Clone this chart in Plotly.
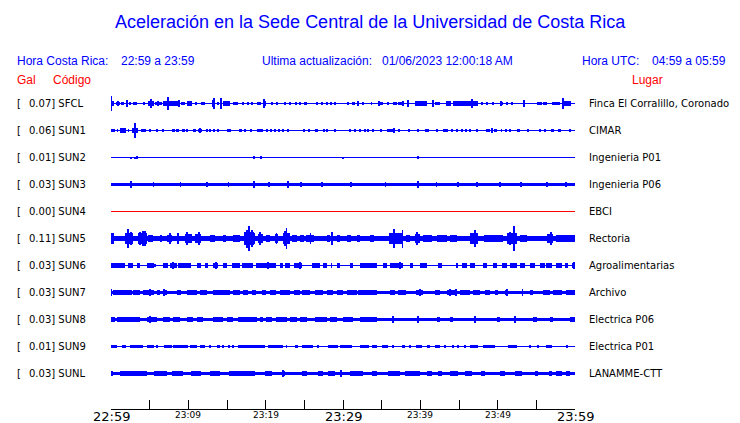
import plotly.graph_objects as go

# ---------------- data ----------------
TITLE = "Aceleración en la Sede Central de la Universidad de Costa Rica"
HORA_CR = "22:59 a 23:59"
ACTUALIZACION = "01/06/2023 12:00:18 AM"
HORA_UTC = "04:59 a 05:59"

CODES = ["SFCL", "SUN1", "SUN2", "SUN3", "SUN4", "SUN5", "SUN6", "SUN7", "SUN8", "SUN9", "SUNL"]
GAL = ["0.07", "0.06", "0.01", "0.03", "0.00", "0.11", "0.03", "0.03", "0.03", "0.01", "0.03"]
PLACES = ["Finca El Corralillo, Coronado", "CIMAR", "Ingenieria P01", "Ingenieria P06", "EBCI",
          "Rectoria", "Agroalimentarias", "Archivo", "Electrica P06", "Electrica P01", "LANAMME-CTT"]
# background noise half-amplitude (Gal) present over the whole hour
BASE_NOISE = [0, 0, 0, 0.014, 0, 0.022, 0, 0.011, 0.013, 0, 0.012]

# time axis (minutes after 22:59)
TICK_MIN = [0, 10, 20, 30, 40, 50, 60]
TICK_LABELS = ["22:59", "23:09", "23:19", "23:29", "23:39", "23:49", "23:59"]
MAJOR_LABELS = ["22:59", "23:29", "23:59"]
MINOR_TICK_MIN = [5, 15, 25, 35, 45, 55]

# bursts / spikes: (start minute, end minute, half-amplitude in Gal)
SFCL_EV = [(0, 0, .07), (0, 0.4, .018), (0.65, 1.2, .016), (0.95, 0.95, .024), (1.3, 1.7, .015),
           (1.95, 2.25, .016), (2.1, 2.1, .03), (2.45, 2.65, .012), (3.0, 3.0, .01), (3.2, 3.2, .01),
           (4.3, 4.3, .012), (4.75, 5.5, .018), (5.17, 5.17, .04), (5.7, 6.55, .016), (6.12, 6.12, .025),
           (6.75, 7.3, .02), (7.41, 7.41, .06), (7.5, 8.8, .02), (8.79, 8.79, .03), (9.05, 9.55, .016),
           (9.8, 10.5, .02), (10.95, 10.95, .01), (11.72, 11.72, .01), (12.07, 12.07, .012),
           (13.0, 13.45, .02), (13.23, 13.23, .035), (13.36, 13.36, .045), (13.88, 13.88, .01),
           (14.22, 14.22, .05), (14.5, 15.4, .02), (14.96, 14.96, .025), (15.8, 16.4, .016),
           (17.0, 17.25, .012), (17.68, 17.85, .015), (18.19, 18.19, .01), (18.97, 18.97, .01),
           (19.27, 19.27, .01), (19.6, 20.1, .02), (19.83, 19.83, .04), (20.78, 20.78, .01),
           (21.4, 21.55, .012), (22.5, 22.5, .01), (23.15, 23.15, .01), (23.88, 23.88, .01),
           (24.44, 24.44, .01), (25.05, 25.3, .012), (26.6, 26.6, .01), (27.24, 27.24, .012),
           (27.89, 27.89, .01), (28.45, 28.45, .01), (28.97, 28.97, .01),
           (30.69, 30.69, .012), (31.1, 31.55, .015), (31.98, 31.98, .02), (32.54, 32.54, .01),
           (33.7, 33.7, .01), (34.55, 35.2, .015), (34.7, 34.7, .02), (35.7, 36.0, .01),
           (36.5, 36.95, .014), (37.1, 37.8, .015), (37.8, 37.8, .018), (38.45, 38.45, .035),
           (39.3, 40.8, .018), (41.68, 41.68, .03), (41.9, 42.5, .015), (43.3, 44.0, .018),
           (44.25, 45.15, .018), (45.15, 46.7, .022), (46.72, 46.72, .04), (46.8, 47.5, .02),
           (47.93, 47.93, .01), (48.66, 48.66, .012), (49.44, 49.44, .012), (50.43, 50.43, .025),
           (50.5, 50.75, .015), (51.16, 51.16, .01), (51.81, 51.81, .01), (53.4, 53.4, .035),
           (55.05, 55.7, .015), (55.9, 56.35, .015), (57.0, 58.1, .015), (58.4, 58.4, .045),
           (58.5, 59.45, .018)]

SUN1_EV = [(0, 0.55, .014), (0.8, 0.9, .01), (1.15, 2.0, .018), (1.6, 1.6, .02), (2.25, 2.25, .01),
           (2.7, 3.55, .02), (3.15, 3.15, .065), (3.9, 4.5, .015), (5.04, 5.04, .01), (5.99, 5.99, .01),
           (6.77, 6.77, .01), (7.85, 8.3, .012), (8.45, 8.75, .015), (9.2, 9.55, .015), (9.87, 9.87, .01),
           (10.65, 10.95, .012), (11.3, 11.75, .015), (11.5, 11.5, .02), (12.37, 12.37, .012),
           (12.8, 12.8, .01), (13.36, 13.36, .012), (13.88, 13.88, .015), (15.09, 15.09, .012),
           (15.4, 15.4, .012), (16.6, 16.9, .015), (17.33, 17.33, .01), (17.95, 18.25, .012),
           (18.85, 19.7, .015), (20.13, 20.13, .01), (20.65, 20.65, .012), (21.2, 21.2, .01),
           (21.72, 21.72, .012), (22.28, 22.28, .012), (22.93, 22.93, .012), (24.96, 24.96, .01),
           (25.6, 25.6, .01), (26.4, 26.8, .012), (27.54, 27.54, .01), (27.89, 27.89, .012),
           (28.97, 28.97, .012), (30.9, 30.9, .01), (31.55, 31.55, .01), (32.2, 32.2, .01),
           (32.84, 32.84, .012), (33.27, 33.27, .012), (33.92, 33.92, .012), (34.87, 34.87, .015),
           (35.65, 36.5, .014), (36.59, 36.59, .025), (37.28, 37.28, .01), (38.58, 38.58, .01),
           (39.74, 39.74, .012), (40.73, 40.73, .01), (40.95, 40.95, .012), (42.2, 42.2, .01),
           (42.95, 43.6, .015), (44.05, 44.05, .012), (44.78, 44.78, .012), (45.34, 45.34, .01),
           (45.75, 46.05, .015), (46.42, 46.42, .012), (47.37, 47.37, .01), (48.55, 49.0, .015),
           (49.31, 49.31, .025), (49.5, 49.95, .015), (50.5, 50.5, .012), (51.03, 51.03, .012),
           (51.6, 51.6, .012), (52.5, 52.85, .015), (53.96, 53.96, .01), (55.47, 55.47, .01),
           (56.12, 56.12, .01), (56.98, 56.98, .01), (57.2, 57.2, .012), (57.8, 58.25, .015),
           (59.35, 59.35, .01)]

SUN2_EV = [(2.59, 2.59, .008), (3.1, 3.1, .008), (3.35, 3.5, .012), (18.49, 18.49, .012),
           (19.35, 19.35, .01), (30.04, 30.04, .008), (39.74, 39.74, .01)]

SUN3_EV = [(2.59, 2.59, .028), (5.5, 5.5, .021), (9.0, 9.0, .021), (12.4, 12.4, .021),
           (15.2, 15.2, .021), (18.53, 18.53, .028), (20.43, 20.43, .024), (22.93, 22.93, .028),
           (24.6, 24.6, .021), (27.3, 27.3, .021), (31.0, 31.0, .021), (35.5, 35.5, .021),
           (39.74, 39.74, .03), (42.1, 42.1, .021), (44.9, 44.9, .021), (47.28, 47.28, .024),
           (50.3, 50.3, .021), (53.0, 53.0, .021), (56.4, 56.4, .021), (58.8, 58.8, .021)]

SUN4_EV = []

SUN5_EV = [(0, 0.4, .045), (1.8, 2.9, .045), (2.24, 2.24, .085), (2.55, 2.55, .06), (3.5, 4.6, .045),
           (3.75, 3.75, .06), (4.18, 4.18, .07), (4.4, 4.4, .065), (4.8, 5.45, .03), (6.5, 6.5, .035),
           (7.2, 7.85, .035), (7.6, 7.6, .045), (8.62, 8.62, .05), (9.6, 10.45, .04), (9.87, 9.87, .06),
           (10.85, 11.7, .04), (11.38, 11.38, .055), (12.8, 13.45, .03), (14.5, 14.9, .03),
           (15.8, 16.7, .035), (17.2, 18.5, .06), (17.54, 17.54, .08), (17.84, 17.84, .107),
           (18.19, 18.19, .075), (18.5, 18.5, .05), (19.05, 19.7, .04), (19.27, 19.27, .055),
           (20.1, 20.55, .035), (21.2, 21.6, .04), (21.4, 21.4, .05), (22.3, 23.2, .05),
           (22.5, 22.5, .07), (22.7, 22.7, .09), (23.35, 24.0, .035), (24.4, 25.0, .03),
           (25.2, 26.2, .035), (25.8, 25.8, .045), (27.9, 28.3, .03), (28.6, 28.6, .06),
           (29.2, 29.6, .035), (30.5, 31.0, .03), (31.8, 32.2, .032), (33.5, 34.0, .03),
           (35.9, 37.7, .045), (36.6, 36.6, .085), (37.7, 37.7, .08), (38.2, 38.7, .035),
           (39.3, 39.95, .04), (39.6, 39.6, .06), (40.4, 41.5, .03), (42.1, 43.4, .03),
           (43.8, 44.7, .035), (46.4, 47.5, .045), (47.07, 47.07, .078), (48.2, 50.7, .03),
           (51.2, 52.5, .05), (51.6, 51.6, .06), (52.15, 52.15, .107), (52.9, 53.8, .035),
           (56.35, 57.2, .04), (56.9, 56.9, .055), (57.6, 60, .03)]

SUN6_EV = [(0, 1.8, .019), (2.25, 2.9, .019), (3.3, 3.75, .019), (4.6, 5.5, .019), (5.7, 5.7, .015),
           (6.7, 7.4, .019), (7.6, 8.5, .019), (7.97, 7.97, .033), (8.7, 10.4, .019), (11.1, 11.7, .019),
           (12.15, 12.6, .019), (13.2, 13.9, .019), (13.53, 13.53, .03), (14.5, 14.95, .019),
           (15.6, 16.7, .019), (16.9, 18.4, .019), (18.8, 20.1, .019), (20.1, 21.4, .019),
           (20.35, 20.35, .028), (21.85, 22.3, .019), (22.5, 23.15, .019), (23.6, 24.65, .019),
           (24.44, 24.44, .028), (25.95, 27.0, .019), (27.45, 27.9, .019), (28.5, 28.5, .019),
           (29.2, 29.6, .019), (30.9, 31.3, .019), (32.2, 33.5, .019), (33.5, 34.35, .019),
           (35.2, 35.65, .019), (36.1, 37.8, .019), (37.37, 37.37, .028), (38.65, 39.1, .019),
           (39.95, 40.8, .019), (42.3, 42.75, .019), (44.7, 44.9, .019), (45.35, 46.0, .019),
           (46.4, 47.05, .019), (48.15, 48.6, .019), (49.4, 49.9, .019), (50.5, 51.2, .019),
           (51.6, 52.45, .019), (52.9, 53.5, .019), (54.2, 54.8, .019), (55.5, 56.1, .019),
           (56.3, 57.0, .019), (57.6, 58.3, .019), (58.7, 59.1, .019), (59.6, 60, .019),
           (59.9, 59.9, .03)]

SUN7_EV = [(0, 0, .028), (0.3, 2.7, .019), (2.9, 3.75, .019), (4.2, 5.5, .019), (5.04, 5.04, .028),
           (5.9, 6.35, .019), (6.7, 7.2, .02), (6.9, 6.9, .03), (8.5, 9.1, .02), (9.8, 11.1, .019),
           (11.5, 12.4, .019), (13.2, 15.4, .019), (15.8, 16.7, .019), (17.1, 17.75, .019),
           (18.2, 18.8, .019), (19.5, 20.1, .019), (20.55, 21.4, .019), (21.85, 23.15, .021),
           (23.6, 24.45, .019), (24.65, 25.7, .019), (26.4, 27.45, .019), (27.9, 28.75, .019),
           (29.2, 30.05, .019), (30.5, 31.8, .019), (32.0, 33.5, .019), (33.5, 34.35, .019),
           (36.1, 36.7, .019), (37.15, 38.2, .019), (39.5, 40.4, .019), (39.96, 39.96, .028),
           (41.9, 42.55, .019), (43.4, 44.7, .019), (43.83, 43.83, .028), (44.6, 44.6, .028),
           (45.1, 46.4, .019), (46.85, 47.7, .019), (48.35, 49.0, .019), (49.65, 50.1, .019),
           (50.95, 51.4, .019), (51.25, 51.25, .028), (53.2, 53.2, .028), (54.2, 54.6, .019),
           (55.9, 56.8, .021), (57.2, 58.3, .019), (58.9, 60, .019)]

SUN8_EV = [(0, 0.5, .02), (0.75, 3.75, .02), (4.6, 5.9, .02), (5.04, 5.04, .028), (6.75, 7.6, .02),
           (8.05, 8.9, .02), (9.8, 10.65, .02), (11.1, 11.95, .02), (13.2, 14.5, .02),
           (14.95, 15.8, .02), (16.45, 18.85, .022), (19.25, 19.7, .02), (20.1, 20.8, .02),
           (21.4, 22.7, .02), (23.15, 24.0, .02), (24.45, 25.3, .02), (26.4, 27.9, .02),
           (28.3, 29.2, .02), (30.05, 31.35, .02), (32.2, 33.5, .02), (33.5, 34.35, .02),
           (36.5, 36.5, .028), (39.74, 39.74, .028), (42.1, 42.55, .02), (43.83, 44.27, .02),
           (47.07, 47.07, .028), (49.87, 50.3, .02), (52.24, 52.24, .028), (54.6, 55.05, .02),
           (56.77, 57.2, .02), (59.35, 60, .02)]

SUN9_EV = [(0, 0.75, .011), (1.4, 2.0, .011), (2.45, 4.2, .011), (4.6, 5.5, .011), (5.9, 6.1, .011),
           (6.9, 7.85, .011), (8.05, 10.0, .011), (10.2, 11.1, .011), (11.5, 12.15, .011),
           (12.8, 12.8, .011), (13.65, 14.1, .011), (14.5, 14.5, .011), (15.25, 15.25, .011),
           (15.8, 15.8, .011), (16.45, 19.9, .012), (20.35, 22.3, .011), (22.7, 22.7, .011),
           (23.8, 24.2, .011), (24.65, 26.15, .011), (26.8, 26.8, .011), (28.1, 29.4, .011),
           (29.6, 31.1, .011), (32.2, 33.3, .011), (33.7, 34.35, .011), (35.0, 35.85, .011),
           (36.5, 36.5, .011), (37.6, 38.0, .011), (38.65, 38.65, .011), (39.5, 40.2, .011),
           (40.8, 41.25, .011), (41.9, 42.55, .011), (43.2, 43.2, .011), (44.25, 44.25, .011),
           (44.9, 44.9, .011), (45.8, 45.8, .011), (46.4, 47.5, .011), (48.15, 49.65, .011),
           (51.4, 52.45, .011), (54.2, 54.2, .011), (55.25, 55.25, .011), (56.3, 57.0, .011),
           (58.9, 59.15, .011)]

SUNL_EV = [(0, 0.3, .02), (1.15, 4.6, .02), (5.6, 7.2, .02), (7.85, 9.35, .02),
           (10.4, 11.7, .02), (12.8, 14.1, .02), (15.2, 18.6, .02), (19.9, 20.8, .02),
           (22.05, 22.5, .02), (22.2, 22.2, .03), (24.65, 25.3, .02), (26.8, 27.45, .02),
           (28.1, 28.95, .02), (29.74, 29.74, .03), (30.9, 32.6, .02), (33.7, 34.35, .02),
           (35.85, 37.4, .02), (38.0, 39.95, .02), (40.8, 41.45, .02), (42.3, 42.75, .02),
           (43.85, 44.9, .02), (45.8, 46.65, .02), (47.9, 48.35, .02), (50.3, 50.95, .02),
           (52.25, 53.1, .02), (54.8, 55.25, .02), (56.75, 57.0, .02), (57.6, 58.3, .02),
           (58.9, 59.35, .02)]

EVENTS = [SFCL_EV, SUN1_EV, SUN2_EV, SUN3_EV, SUN4_EV, SUN5_EV, SUN6_EV, SUN7_EV, SUN8_EV, SUN9_EV, SUNL_EV]

# ---------------- layout constants ----------------
W, H = 740, 423
X0, X1 = 111, 575          # plot area left/right px
ROW0, ROW_STEP = 103.5, 27  # first row centre (pixel centre) and row pitch, px
AXIS_Y = 409               # time axis line px
LABEL_Y = 416              # time tick label centre px
AMP_RANGE = 0.12           # Gal shown above / below each row centre
MIN_W = 0.1                # narrowest drawn spike (minutes)
BLUE = "#0000ff"
RED = "#ff0000"
HEAD_FONT = "Liberation Sans, Arial, sans-serif"
ROW_FONT = "DejaVu Sans, sans-serif"


def px_x(p):
    return p / W


def px_y(p):
    return 1 - p / H


fig = go.Figure()
layout_axes = {}
n = len(CODES)
for i in range(n):
    yname = "y" if i == 0 else f"y{i + 1}"
    lname = "yaxis" if i == 0 else f"yaxis{i + 1}"
    inactive = float(GAL[i]) == 0
    col = RED if inactive else BLUE
    xs, ws, bs, hs = [], [], [], []
    if BASE_NOISE[i] > 0:
        xs.append(30)
        ws.append(60)
        bs.append(-BASE_NOISE[i])
        hs.append(2 * BASE_NOISE[i])
    for s, e, a in EVENTS[i]:
        xs.append((s + e) / 2)
        ws.append(max(e - s, MIN_W))
        bs.append(-a)
        hs.append(2 * a)
    fig.add_trace(go.Bar(x=xs, y=hs, base=bs, width=ws, xaxis="x", yaxis=yname,
                         marker=dict(color=col, line=dict(width=0)),
                         showlegend=False, hoverinfo="skip"))
    c = ROW0 + ROW_STEP * i
    layout_axes[lname] = dict(domain=[px_y(c + ROW_STEP / 2), px_y(c - ROW_STEP / 2)],
                              range=[-AMP_RANGE, AMP_RANGE], anchor="x", automargin=False,
                              showticklabels=False, showgrid=False, showline=False, ticks="",
                              zeroline=True, zerolinecolor=col, zerolinewidth=1, fixedrange=True)

annotations = []


def ann(text, x, y, size, color, font, xanchor="left"):
    annotations.append(dict(text=text, x=px_x(x), y=px_y(y), xref="paper", yref="paper",
                            xanchor=xanchor, yanchor="middle", showarrow=False,
                            font=dict(size=size, color=color, family=font)))


ann(TITLE, 370, 22, 18, BLUE, HEAD_FONT, "center")
ann("Hora Costa Rica:", 15, 61, 12, BLUE, HEAD_FONT)
ann(HORA_CR, 119, 61, 12, BLUE, HEAD_FONT)
ann("Ultima actualización:", 260, 61, 12, BLUE, HEAD_FONT)
ann(ACTUALIZACION, 380, 61, 12, BLUE, HEAD_FONT)
ann("Hora UTC:", 580, 61, 12, BLUE, HEAD_FONT)
ann(HORA_UTC, 650, 61, 12, BLUE, HEAD_FONT)
ann("Gal", 15, 80, 12, RED, HEAD_FONT)
ann("Código", 51, 80, 12, RED, HEAD_FONT)
ann("Lugar", 630, 80, 12, RED, HEAD_FONT)

for i in range(n):
    c = ROW0 + ROW_STEP * i
    ann("[", 15, c, 10, "black", ROW_FONT)
    ann(f"{GAL[i]}] {CODES[i]}", 27, c, 10, "black", ROW_FONT)
    ann(PLACES[i], 587, c, 10, "black", ROW_FONT)

# time tick labels, placed through the x axis
for tv, lab in zip(TICK_MIN, TICK_LABELS):
    major = lab in MAJOR_LABELS
    annotations.append(dict(text=lab, x=tv, xref="x", y=px_y(LABEL_Y if major else LABEL_Y - 1),
                            yref="paper", xanchor="center", yanchor="middle", showarrow=False,
                            font=dict(size=13 if major else 9, color="black", family=ROW_FONT)))

fig.update_layout(
    template="none",
    width=W, height=H,
    margin=dict(l=0, r=0, t=0, b=0, pad=0, autoexpand=False),
    paper_bgcolor="white", plot_bgcolor="white",
    barmode="overlay", bargap=0,
    showlegend=False,
    hovermode=False,
    xaxis=dict(domain=[px_x(X0), px_x(X1)], range=[0, 60], anchor="free", position=px_y(AXIS_Y),
               automargin=False,
               showline=True, linecolor="black", linewidth=1,
               ticks="inside", ticklen=9, tickcolor="black", tickwidth=1,
               tickvals=TICK_MIN, showticklabels=False,
               minor=dict(tickvals=MINOR_TICK_MIN, ticks="inside", ticklen=9, tickcolor="black",
                          tickwidth=1, showgrid=False),
               showgrid=False, zeroline=False, fixedrange=True),
    annotations=annotations,
    **layout_axes,
)

fig.write_html(
    "out.html",
    config=dict(displayModeBar=False),
    post_script="document.body.style.margin='0';document.body.style.overflow='hidden';",
)
